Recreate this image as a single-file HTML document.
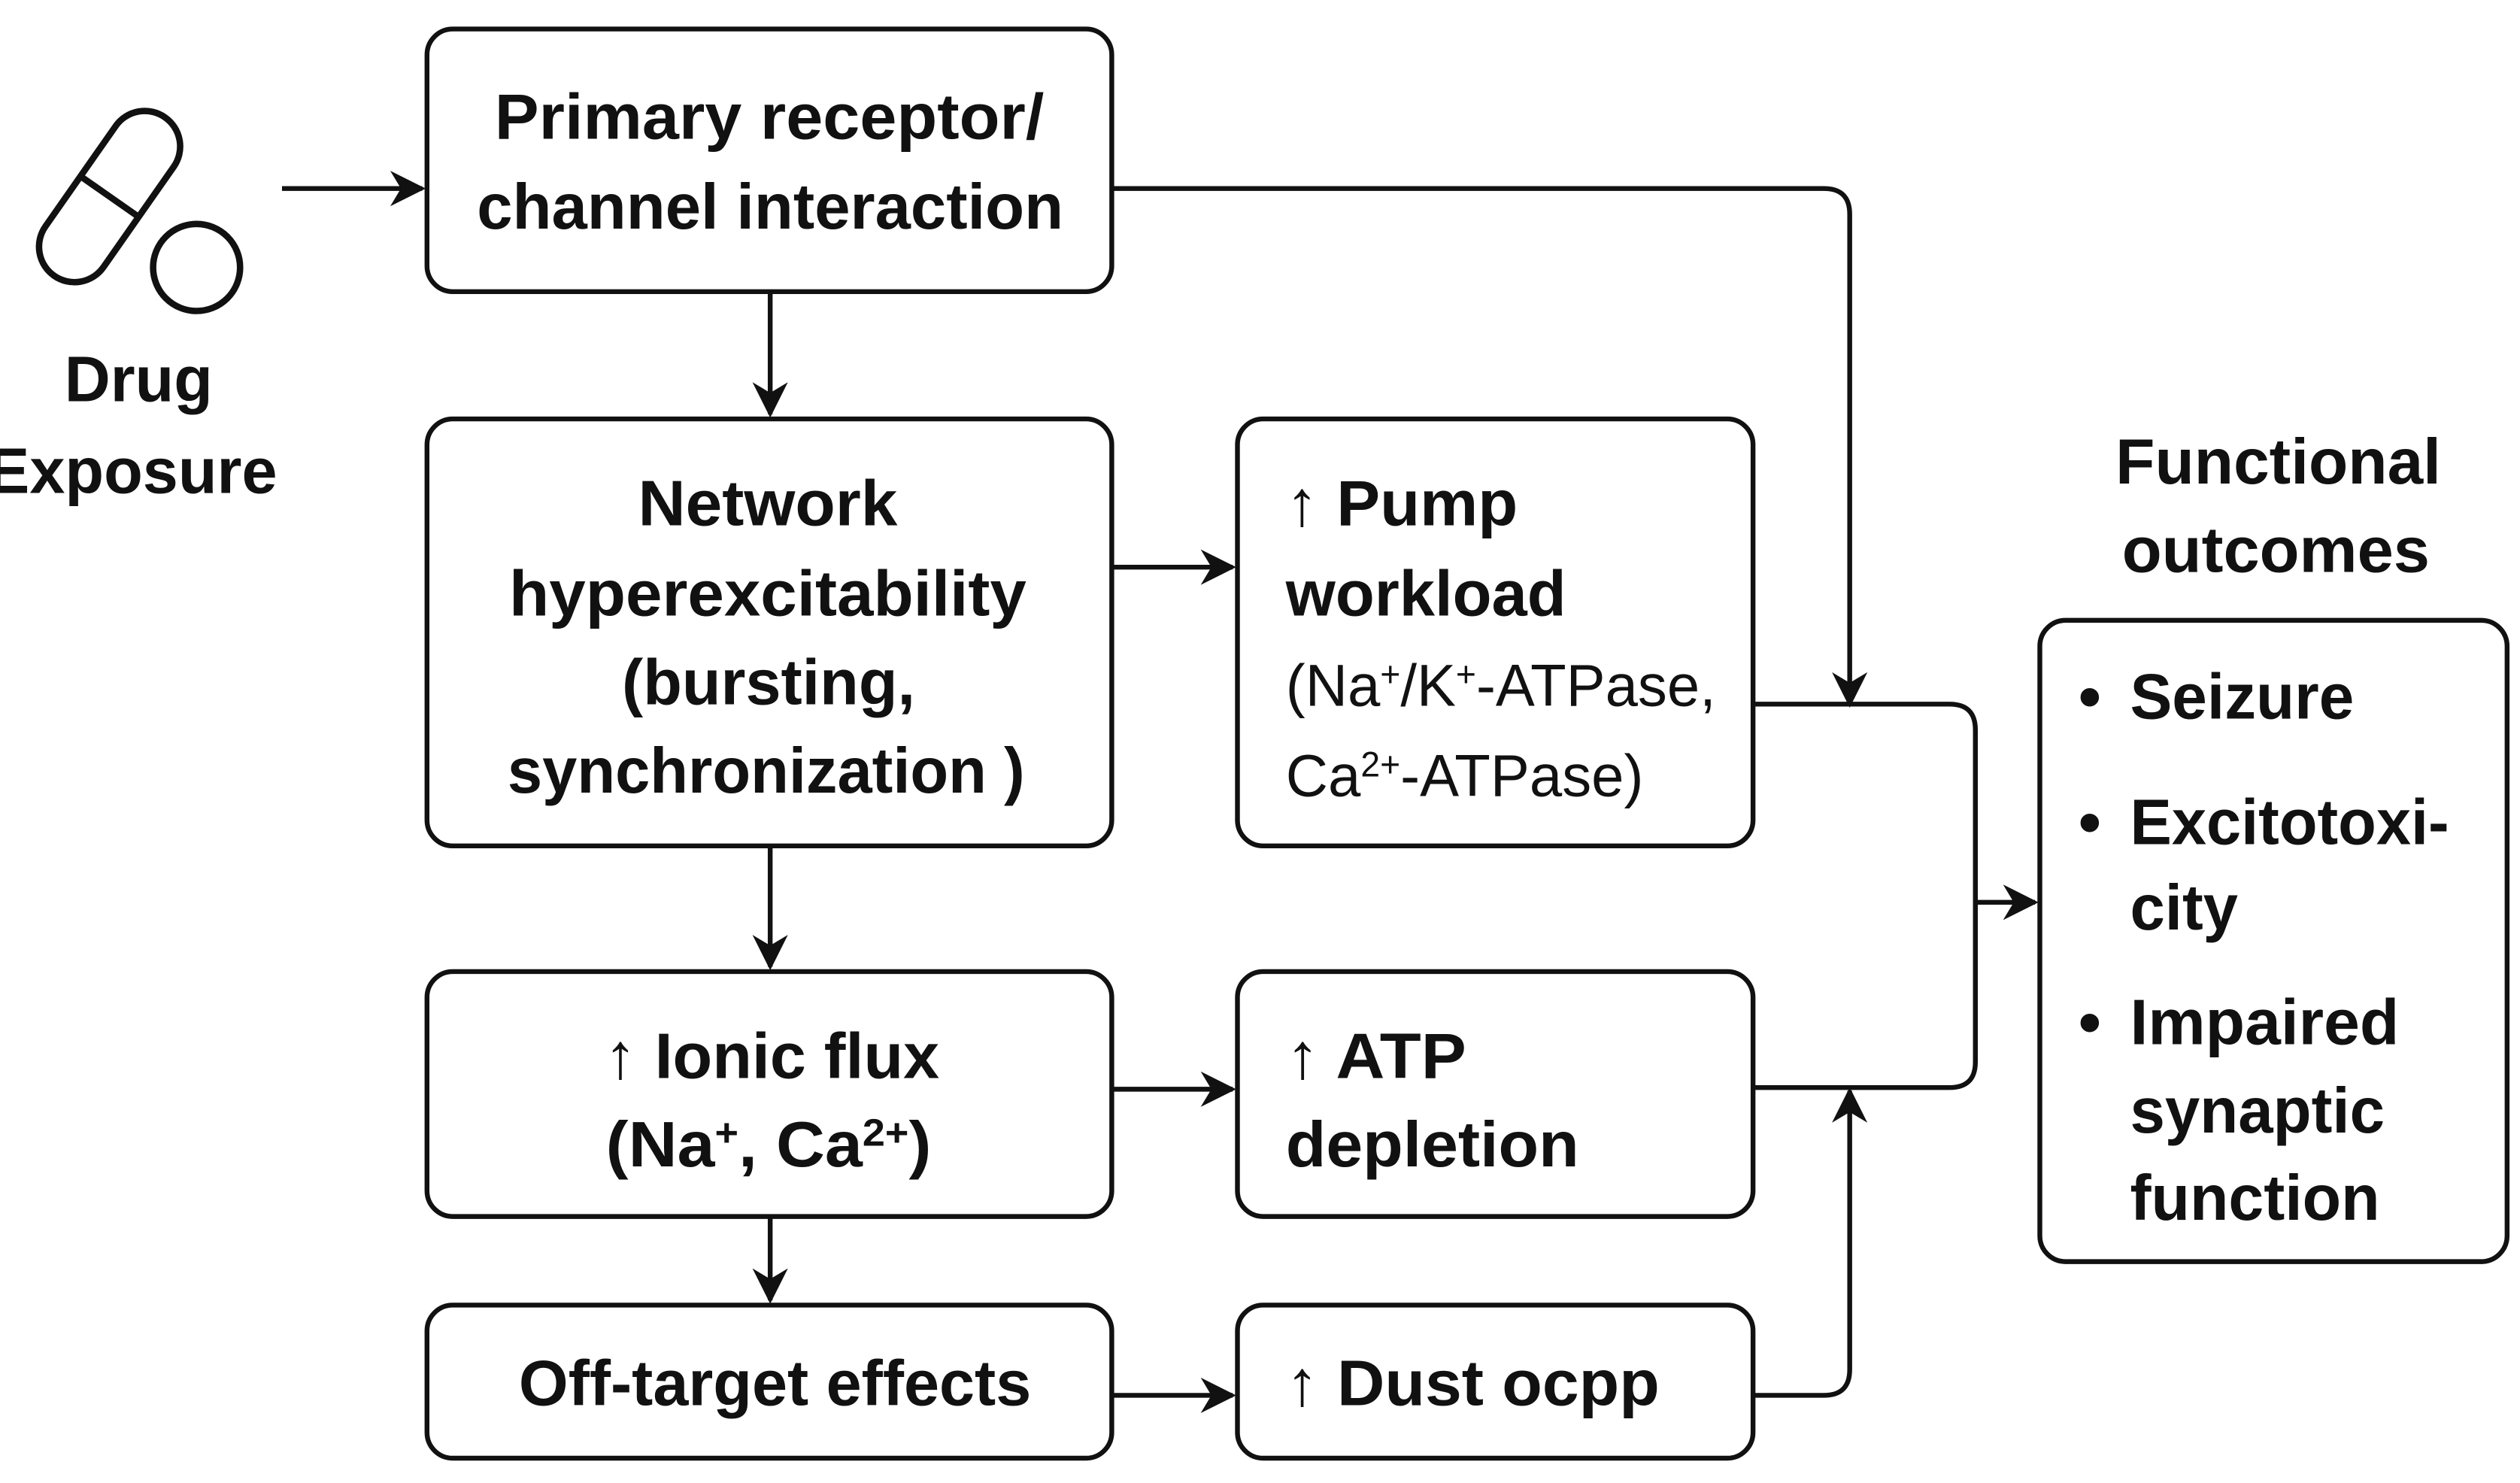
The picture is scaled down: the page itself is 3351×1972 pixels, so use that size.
<!DOCTYPE html>
<html><head><meta charset="utf-8"><style>
html,body{margin:0;padding:0;background:#fff;}
svg{display:block;}
text{font-family:"Liberation Sans",sans-serif;font-weight:bold;fill:#111;font-size:40px;}
.n{font-weight:normal;font-size:37px;}
</style></head><body>
<svg width="3351" height="1972" viewBox="0 0 1564 920.4" xmlns="http://www.w3.org/2000/svg">
<defs><marker id="a" viewBox="0 0 10 10" refX="9" refY="5" markerWidth="6" markerHeight="6" markerUnits="userSpaceOnUse" orient="auto"><path d="M0,0 L10,5 L0,10 L3,5 z" fill="#111"/></marker>
<marker id="b" viewBox="0 0 10 10" refX="9" refY="5" markerWidth="22" markerHeight="22" markerUnits="userSpaceOnUse" orient="auto"><path d="M0,0 L10,5 L0,10 L3,5 z" fill="#111"/></marker></defs>
<g fill="none" stroke="#111" stroke-width="3">
<rect x="265" y="18" width="425" height="163" rx="16"/>
<rect x="265" y="260" width="425" height="265" rx="16"/>
<rect x="768" y="260" width="320" height="265" rx="16"/>
<rect x="265" y="603" width="425" height="152" rx="16"/>
<rect x="768" y="603" width="320" height="152" rx="16"/>
<rect x="265" y="810" width="425" height="95" rx="16"/>
<rect x="768" y="810" width="320" height="95" rx="16"/>
<rect x="1266" y="385" width="290" height="398" rx="16"/>
<!-- pill -->
<g transform="translate(68,122) rotate(-55)" stroke-width="4">
<rect x="-60" y="-22" width="120" height="44" rx="22"/>
<line x1="0" y1="-22" x2="0" y2="22"/>
</g>
<circle cx="122" cy="166" r="27" stroke-width="4"/>
<g marker-end="url(#b)">
<line x1="175" y1="117" x2="262" y2="117"/>
<line x1="478" y1="181" x2="478" y2="257"/>
<path d="M690,117 H1132 Q1148,117 1148,133 V437"/>
<line x1="690" y1="352" x2="765" y2="352"/>
<line x1="478" y1="525" x2="478" y2="600"/>
<line x1="690" y1="676" x2="765" y2="676"/>
<line x1="478" y1="755" x2="478" y2="807"/>
<line x1="690" y1="866" x2="765" y2="866"/>
<path d="M1088,866 H1132 Q1148,866 1148,850 V677"/>
<line x1="1226" y1="560" x2="1263" y2="560"/>
</g>
<path d="M1088,437 H1210 Q1226,437 1226,453 V659 Q1226,675 1210,675 H1088"/>
</g>
<text x="40" y="249" textLength="92" lengthAdjust="spacingAndGlyphs">Drug</text>
<text x="-8" y="306" textLength="180" lengthAdjust="spacingAndGlyphs">Exposure</text>
<text x="307" y="86" textLength="341" lengthAdjust="spacingAndGlyphs">Primary receptor/</text>
<text x="296" y="142" textLength="364" lengthAdjust="spacingAndGlyphs">channel interaction</text>
<text x="396" y="326" textLength="161" lengthAdjust="spacingAndGlyphs">Network</text>
<text x="316" y="382" textLength="321" lengthAdjust="spacingAndGlyphs">hyperexcitability</text>
<text x="386" y="437" textLength="182" lengthAdjust="spacingAndGlyphs">(bursting,</text>
<text x="315" y="492" textLength="321" lengthAdjust="spacingAndGlyphs">synchronization )</text>
<text x="798" y="326" textLength="144" lengthAdjust="spacingAndGlyphs">↑ Pump</text>
<text x="798" y="382" textLength="174" lengthAdjust="spacingAndGlyphs">workload</text>
<text class="n" x="798" y="438" textLength="267" lengthAdjust="spacingAndGlyphs">(Na<tspan dy="-12" font-size="22">+</tspan><tspan dy="12">/K</tspan><tspan dy="-12" font-size="22">+</tspan><tspan dy="12">-ATPase,</tspan></text>
<text class="n" x="798" y="494" textLength="222" lengthAdjust="spacingAndGlyphs">Ca<tspan dy="-12" font-size="22">2+</tspan><tspan dy="12">-ATPase)</tspan></text>
<text x="375" y="669" textLength="208" lengthAdjust="spacingAndGlyphs">↑ Ionic flux</text>
<text x="376" y="724" textLength="202" lengthAdjust="spacingAndGlyphs">(Na<tspan dy="-13" font-size="24">+</tspan><tspan dy="13">, Ca</tspan><tspan dy="-13" font-size="24">2+</tspan><tspan dy="13">)</tspan></text>
<text x="798" y="669" textLength="112" lengthAdjust="spacingAndGlyphs">↑ ATP</text>
<text x="798" y="724" textLength="182" lengthAdjust="spacingAndGlyphs">depletion</text>
<text x="322" y="872" textLength="318" lengthAdjust="spacingAndGlyphs">Off-target effects</text>
<text x="798" y="872" textLength="232" lengthAdjust="spacingAndGlyphs">↑ Dust ocpp</text>
<text x="1313" y="300" textLength="202" lengthAdjust="spacingAndGlyphs">Functional</text>
<text x="1317" y="355" textLength="191" lengthAdjust="spacingAndGlyphs">outcomes</text>
<text x="1290" y="446">•</text>
<text x="1322" y="446" textLength="139" lengthAdjust="spacingAndGlyphs">Seizure</text>
<text x="1290" y="524">•</text>
<text x="1322" y="524" textLength="198" lengthAdjust="spacingAndGlyphs">Excitotoxi-</text>
<text x="1322" y="577" textLength="67" lengthAdjust="spacingAndGlyphs">city</text>
<text x="1290" y="648">•</text>
<text x="1322" y="648" textLength="167" lengthAdjust="spacingAndGlyphs">Impaired</text>
<text x="1322" y="703" textLength="158" lengthAdjust="spacingAndGlyphs">synaptic</text>
<text x="1322" y="757" textLength="155" lengthAdjust="spacingAndGlyphs">function</text>
</svg>
</body></html>
